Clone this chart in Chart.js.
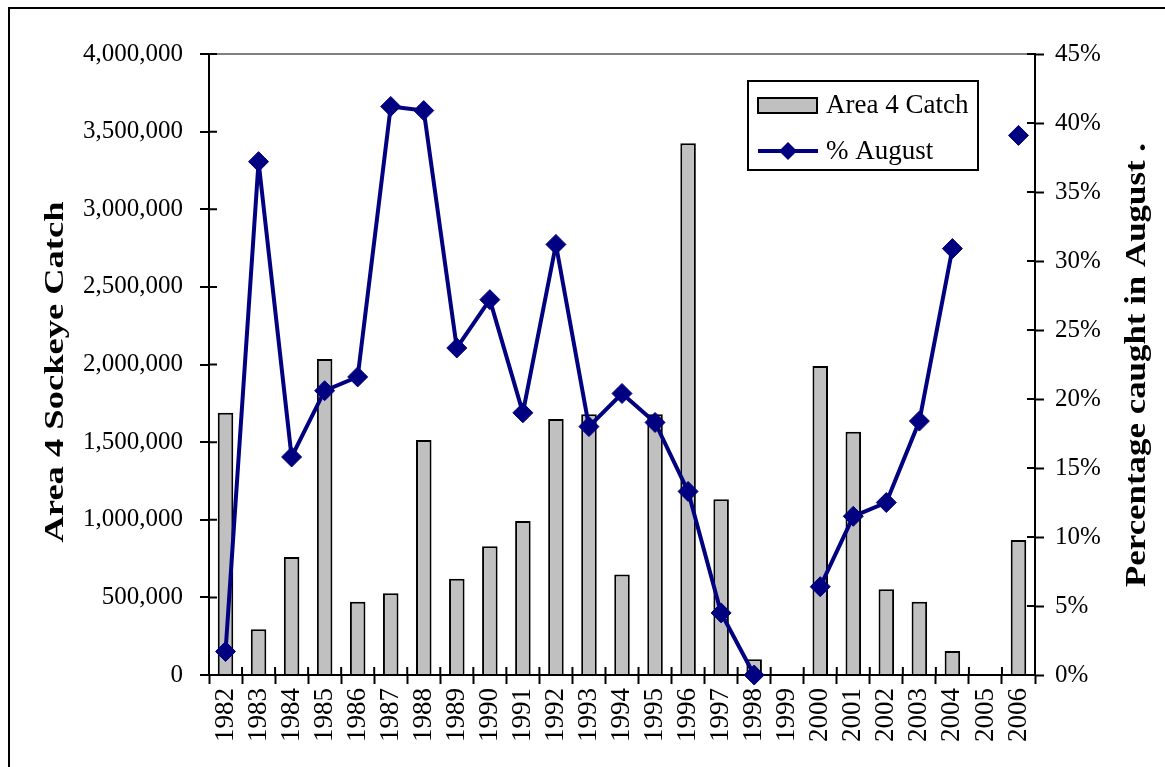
<!DOCTYPE html>
<html lang="en">
<head>
<meta charset="UTF-8">
<title>Area 4 Sockeye Catch</title>
<script src="https://cdn.jsdelivr.net/npm/chart.js"></script>
<style>
  body { margin: 0; background: #fff; overflow: hidden; }
  #wrap { position: relative; width: 1165px; height: 767px; overflow: hidden; }
  #frame { position: absolute; left: 8px; top: 7px; width: 1200px; height: 800px; border: 2px solid #000; pointer-events: none; }
  canvas { position: absolute; left: 0; top: 0; }
</style>
</head>
<body>
<div id="wrap">
  <canvas id="catchChart" width="1165" height="767"></canvas>
  <div id="frame"></div>
</div>
<script>
const years = ['1982', '1983', '1984', '1985', '1986', '1987', '1988', '1989', '1990', '1991', '1992', '1993',
  '1994', '1995', '1996', '1997', '1998', '1999', '2000', '2001', '2002', '2003', '2004', '2005', '2006'];
const catchArea4 = [1690000, 295000, 760000, 2035000, 472000, 526000, 1514000, 620000, 829000, 992000, 1649000, 1679000,
  648000, 1679000, 3425000, 1132000, 101000, null, 1990000, 1567000, 552000, 472000, 155000, null, 870000];
const pctAugust = [1.7, 37.2, 15.8, 20.6, 21.6, 41.2, 40.9, 23.7, 27.2, 19.0, 31.2, 18.0,
  20.4, 18.3, 13.3, 4.5, 0, null, 6.4, 11.5, 12.5, 18.4, 30.9, null, 39.1];
const catchTicks = { min: 0, max: 4000000, step: 500000 };
const pctTicks = { min: 0, max: 45, step: 5 };

const serif = '"Liberation Serif", "Times New Roman", serif';
const navy = '#000080';

// crossing tick marks (inner half), excel style
const innerTicks = {
  id: 'innerTicks',
  afterDatasetsDraw(chart) {
    const ctx = chart.ctx, a = chart.chartArea;
    const ys = chart.scales.y, y2 = chart.scales.y2, xs = chart.scales.x;
    ctx.save();
    ctx.strokeStyle = '#000';
    ctx.lineWidth = 2;
    ctx.beginPath();
    ys.ticks.forEach(t => { const p = ys.getPixelForValue(t.value); ctx.moveTo(a.left, p); ctx.lineTo(a.left + 8, p); });
    y2.ticks.forEach(t => { const p = y2.getPixelForValue(t.value); ctx.moveTo(a.right - 8, p); ctx.lineTo(a.right, p); });
    const w = (a.right - a.left) / xs.ticks.length;
    for (let i = 1; i < xs.ticks.length; i++) {
      const p = xs.getPixelForTick(i) - w / 2;
      ctx.moveTo(p, a.bottom); ctx.lineTo(p, a.bottom - 8);
    }
    ctx.stroke();
    ctx.restore();
  }
};

function drawTitle(ctx, text, x, y, size, len) {
  ctx.save();
  ctx.font = 'bold ' + size + 'px ' + serif;
  ctx.fillStyle = '#000';
  ctx.textAlign = 'center';
  ctx.textBaseline = 'alphabetic';
  const sx = len / ctx.measureText(text).width;
  ctx.translate(x, y);
  ctx.rotate(-Math.PI / 2);
  ctx.scale(sx, 1);
  ctx.fillText(text, 0, 0);
  ctx.restore();
}

const axisTitles = {
  id: 'axisTitles',
  afterDraw(chart) {
    drawTitle(chart.ctx, 'Area 4 Sockeye Catch', 63, 372, 28, 341);
    drawTitle(chart.ctx, 'Percentage caught in August .', 1145, 365, 29, 444);
  }
};

const boxLegend = {
  id: 'boxLegend',
  afterDraw(chart) {
    const ctx = chart.ctx;
    const bar = chart.data.datasets[1], line = chart.data.datasets[0];
    ctx.save();
    ctx.fillStyle = '#fff';
    ctx.fillRect(748, 81, 230, 89);
    ctx.strokeStyle = '#000';
    ctx.lineWidth = 2;
    ctx.strokeRect(748, 81, 230, 89);
    // bar swatch
    ctx.fillStyle = bar.backgroundColor;
    ctx.fillRect(758, 98, 59, 15);
    ctx.strokeRect(758, 98, 59, 15);
    // line swatch
    ctx.strokeStyle = line.borderColor;
    ctx.lineWidth = 4;
    ctx.beginPath();
    ctx.moveTo(758, 151); ctx.lineTo(818, 151);
    ctx.stroke();
    ctx.fillStyle = line.borderColor;
    ctx.beginPath();
    ctx.moveTo(788, 142); ctx.lineTo(797, 151); ctx.lineTo(788, 160); ctx.lineTo(779, 151);
    ctx.closePath();
    ctx.fill();
    ctx.fillStyle = '#000';
    ctx.font = '27px ' + serif;
    ctx.textBaseline = 'middle';
    ctx.fillText(bar.label, 826, 106);
    ctx.fillText(line.label, 826, 152);
    ctx.restore();
  }
};

new Chart(document.getElementById('catchChart'), {
  data: {
    labels: years,
    datasets: [
      {
        type: 'line',
        label: '% August',
        data: pctAugust,
        yAxisID: 'y2',
        borderColor: navy,
        backgroundColor: navy,
        borderWidth: 4,
        pointStyle: 'rectRot',
        pointRadius: 10,
        pointBorderWidth: 1,
        pointBackgroundColor: navy,
        tension: 0,
        spanGaps: false,
        clip: false,
        order: 0
      },
      {
        type: 'bar',
        label: 'Area 4 Catch',
        data: catchArea4,
        yAxisID: 'y',
        backgroundColor: '#c0c0c0',
        borderColor: '#000',
        borderWidth: 2,
        barPercentage: 0.47,
        categoryPercentage: 1,
        order: 1
      }
    ]
  },
  options: {
    responsive: false,
    animation: false,
    layout: { padding: { top: 54 } },
    plugins: { legend: { display: false }, tooltip: { enabled: false } },
    scales: {
      x: {
        offset: true,
        grid: { offset: true, drawOnChartArea: false, tickLength: 9, tickColor: '#000', tickWidth: 2 },
        border: { color: '#000', width: 2 },
        ticks: { font: { family: serif, size: 27 }, color: '#000', minRotation: 90, maxRotation: 90, autoSkip: false, padding: 4 },
        afterFit: s => { s.height = 92; }
      },
      y: {
        position: 'left',
        min: catchTicks.min,
        max: catchTicks.max,
        grid: {
          color: c => (c.tick && c.tick.value === catchTicks.max) ? '#808080' : 'rgba(0,0,0,0)',
          lineWidth: 2, tickColor: '#000', tickLength: 9, tickWidth: 2
        },
        border: { color: '#000', width: 2 },
        ticks: {
          stepSize: catchTicks.step,
          font: { family: serif, size: 25 }, color: '#000', padding: 17,
          callback: v => v.toLocaleString('en-US')
        },
        afterFit: s => { s.width = 209; }
      },
      y2: {
        position: 'right',
        min: pctTicks.min,
        max: pctTicks.max,
        grid: { drawOnChartArea: false, tickColor: '#000', tickLength: 9, tickWidth: 2 },
        border: { color: '#000', width: 2 },
        ticks: {
          stepSize: pctTicks.step,
          font: { family: serif, size: 25 }, color: '#000', padding: 11,
          callback: v => v + '%'
        },
        afterFit: s => { s.width = 130; }
      }
    }
  },
  plugins: [innerTicks, axisTitles, boxLegend]
});
</script>
</body>
</html>
